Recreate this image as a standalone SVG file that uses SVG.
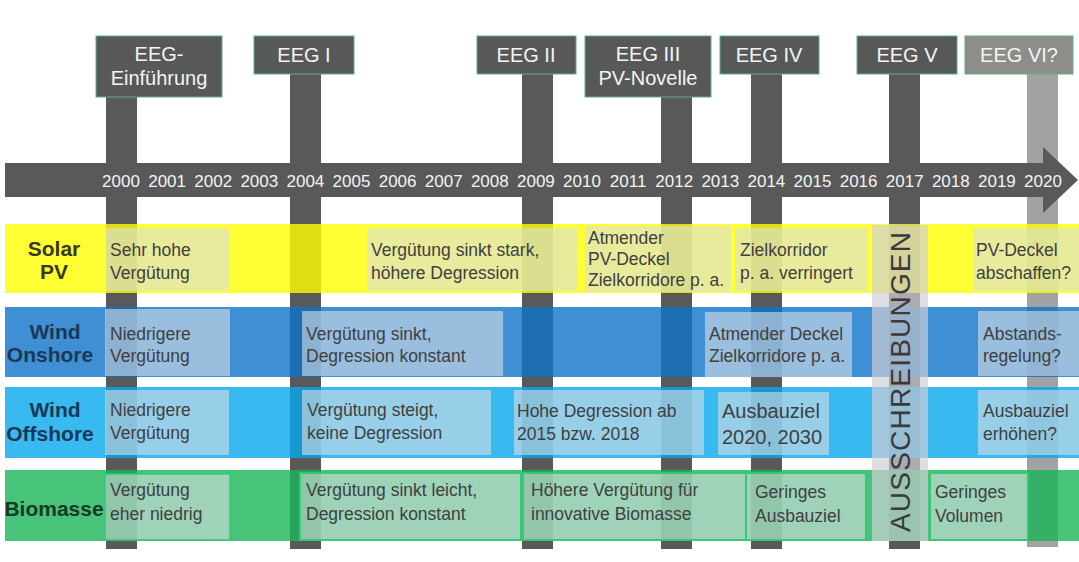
<svg xmlns="http://www.w3.org/2000/svg" width="1079" height="562" viewBox="0 0 1079 562">
<style>
.bar{fill:#595959}
.bar2{fill:#a2a2a2}
.eeg{fill:#575958;stroke:#5fae8f;stroke-width:1}
.eeg2{fill:#8d8d89;stroke:#5fae8f;stroke-width:1}
.et{font-family:"Liberation Sans",Arial,sans-serif;font-size:20px;fill:#f4f4f4;text-anchor:middle}
.yr{font-family:"Liberation Sans",Arial,sans-serif;font-size:17px;fill:#f4f4f4;text-anchor:middle}
.row{opacity:0.8}
.lbl{font-family:"Liberation Sans",Arial,sans-serif;font-size:21px;font-weight:bold;text-anchor:middle}
.bx{fill:#d9dde3;fill-opacity:0.6}
.bt{font-family:"Liberation Sans",Arial,sans-serif;font-size:17.5px;fill:#404040}
.bt2{font-family:"Liberation Sans",Arial,sans-serif;font-size:20px;fill:#404040}
</style>
<rect width="1079" height="562" fill="#ffffff"/>
<g id="bars">
<rect class="bar" x="106" y="60" width="31" height="489"/>
<rect class="bar" x="290" y="60" width="31" height="489"/>
<rect class="bar" x="522" y="60" width="31" height="489"/>
<rect class="bar" x="661" y="60" width="31" height="489"/>
<rect class="bar" x="751" y="60" width="31" height="489"/>
<rect class="bar" x="889" y="60" width="31" height="489"/>
<rect class="bar2" x="1027" y="60" width="31" height="487"/>
</g>
<g id="timeline">
<polygon class="bar" points="5,163 1043,163 1043,147 1078,180 1043,213 1043,197 5,197"/>
<text class="yr" x="121" y="187">2000</text>
<text class="yr" x="167.1" y="187">2001</text>
<text class="yr" x="213.2" y="187">2002</text>
<text class="yr" x="259.3" y="187">2003</text>
<text class="yr" x="305.4" y="187">2004</text>
<text class="yr" x="351.5" y="187">2005</text>
<text class="yr" x="397.6" y="187">2006</text>
<text class="yr" x="443.7" y="187">2007</text>
<text class="yr" x="489.8" y="187">2008</text>
<text class="yr" x="535.9" y="187">2009</text>
<text class="yr" x="582" y="187">2010</text>
<text class="yr" x="628.1" y="187">2011</text>
<text class="yr" x="674.2" y="187">2012</text>
<text class="yr" x="720.3" y="187">2013</text>
<text class="yr" x="766.4" y="187">2014</text>
<text class="yr" x="812.5" y="187">2015</text>
<text class="yr" x="858.6" y="187">2016</text>
<text class="yr" x="904.7" y="187">2017</text>
<text class="yr" x="950.8" y="187">2018</text>
<text class="yr" x="996.9" y="187">2019</text>
<text class="yr" x="1043" y="187">2020</text>
</g>
<g id="eeg-boxes">
<g id="eeg0"><rect class="eeg" x="96" y="36" width="126" height="61"/><text class="et" x="159" y="61">EEG-</text><text class="et" x="159" y="85">Einführung</text></g>
<g id="eeg1"><rect class="eeg" x="254" y="36" width="100" height="38"/><text class="et" x="304" y="62">EEG I</text></g>
<g id="eeg2"><rect class="eeg" x="477" y="36" width="99" height="38"/><text class="et" x="526" y="62">EEG II</text></g>
<g id="eeg3"><rect class="eeg" x="585" y="36" width="126" height="61"/><text class="et" x="648" y="61">EEG III</text><text class="et" x="648" y="85">PV-Novelle</text></g>
<g id="eeg4"><rect class="eeg" x="720" y="36" width="99" height="38"/><text class="et" x="769" y="62">EEG IV</text></g>
<g id="eeg5"><rect class="eeg" x="857" y="36" width="100" height="38"/><text class="et" x="907" y="62">EEG V</text></g>
<g id="eeg6"><rect class="eeg2" x="965" y="36" width="108" height="38"/><text class="et" x="1019" y="62">EEG VI?</text></g>
</g>
<g id="rows">
<rect class="row" x="5" y="224" width="1074" height="69" fill="#ffff00"/>
<rect class="row" x="5" y="307" width="1074" height="70" fill="#0e73c9"/>
<rect class="row" x="5" y="387" width="1074" height="71" fill="#06a8ec"/>
<rect class="row" x="5" y="470" width="1074" height="71" fill="#1ab559"/>
</g>
<g id="row-labels">
<text class="lbl" x="54" y="256" fill="#38381e">Solar</text>
<text class="lbl" x="54" y="279" fill="#38381e">PV</text>
<text class="lbl" x="55" y="339" fill="#1b3858">Wind</text>
<text class="lbl" x="50" y="362" fill="#1b3858">Onshore</text>
<text class="lbl" x="55" y="417" fill="#1b3858">Wind</text>
<text class="lbl" x="50" y="441" fill="#1b3858">Offshore</text>
<text class="lbl" x="54" y="516" fill="#173a24">Biomasse</text>
</g>
<g id="ausschreibungen">
<rect x="872" y="225" width="56" height="316" fill="#cfcfd6" fill-opacity="0.7"/>
<text transform="translate(910,532) rotate(-90)" font-family="'Liberation Sans',Arial,sans-serif" font-size="28" fill="#3a3a3a" textLength="300" lengthAdjust="spacing">AUSSCHREIBUNGEN</text>
</g>
<g id="solar-boxes">
<g id="s1"><rect class="bx" x="106" y="228" width="124" height="63"/><text class="bt" x="110" y="256">Sehr hohe</text><text class="bt" x="110" y="279">Vergütung</text></g>
<g id="s2"><rect class="bx" x="367" y="228" width="211" height="63"/><text class="bt" x="371" y="256">Vergütung sinkt stark,</text><text class="bt" x="371" y="279">höhere Degression</text></g>
<g id="s3"><rect class="bx" x="585" y="226" width="146" height="66"/><text class="bt" x="588" y="244">Atmender</text><text class="bt" x="588" y="265">PV-Deckel</text><text class="bt" x="588" y="286">Zielkorridore p. a.</text></g>
<g id="s4"><rect class="bx" x="735" y="228" width="133" height="63"/><text class="bt" x="740" y="256">Zielkorridor</text><text class="bt" x="740" y="279">p. a. verringert</text></g>
<g id="s5"><rect class="bx" x="973" y="228" width="106" height="63"/><text class="bt" x="976" y="256">PV-Deckel</text><text class="bt" x="976" y="279">abschaffen?</text></g>
</g>
<g id="onshore-boxes">
<g id="on1"><rect class="bx" x="105" y="309" width="125" height="67"/><text class="bt" x="110" y="340">Niedrigere</text><text class="bt" x="110" y="362">Vergütung</text></g>
<g id="on2"><rect class="bx" x="302" y="311" width="201" height="65"/><text class="bt" x="306" y="340">Vergütung sinkt,</text><text class="bt" x="306" y="362">Degression konstant</text></g>
<g id="on3"><rect class="bx" x="705" y="312" width="147" height="65"/><text class="bt" x="709" y="340">Atmender Deckel</text><text class="bt" x="709" y="362">Zielkorridore p. a.</text></g>
<g id="on4"><rect class="bx" x="978" y="311" width="101" height="65"/><text class="bt" x="983" y="340">Abstands-</text><text class="bt" x="983" y="362">regelung?</text></g>
</g>
<g id="offshore-boxes">
<g id="of1"><rect class="bx" x="105" y="390" width="124" height="65"/><text class="bt" x="110" y="416">Niedrigere</text><text class="bt" x="110" y="439">Vergütung</text></g>
<g id="of2"><rect class="bx" x="302" y="390" width="189" height="65"/><text class="bt" x="307" y="416">Vergütung steigt,</text><text class="bt" x="307" y="439">keine Degression</text></g>
<g id="of3"><rect class="bx" x="514" y="390" width="190" height="65"/><text class="bt" x="517" y="417">Hohe Degression ab</text><text class="bt" x="517" y="440">2015 bzw. 2018</text></g>
<g id="of4"><rect class="bx" x="718" y="392" width="111" height="63"/><text class="bt2" x="722" y="418">Ausbauziel</text><text class="bt2" x="722" y="444">2020, 2030</text></g>
<g id="of5"><rect class="bx" x="978" y="390" width="101" height="65"/><text class="bt" x="983" y="417">Ausbauziel</text><text class="bt" x="983" y="440">erhöhen?</text></g>
</g>
<g id="biomasse-boxes">
<g id="b1"><rect class="bx" x="105" y="474" width="125" height="66" stroke="#36c873" stroke-width="1.5"/><text class="bt" x="110" y="496">Vergütung</text><text class="bt" x="110" y="520">eher niedrig</text></g>
<g id="b2"><rect class="bx" x="300" y="473" width="221" height="67" stroke="#36c873" stroke-width="2"/><text class="bt" x="306" y="496">Vergütung sinkt leicht,</text><text class="bt" x="306" y="520">Degression konstant</text></g>
<g id="b3"><rect class="bx" x="523" y="473" width="223" height="67" stroke="#36c873" stroke-width="2"/><text class="bt" x="531" y="496">Höhere Vergütung für</text><text class="bt" x="531" y="520">innovative Biomasse</text></g>
<g id="b4"><rect class="bx" x="746" y="473" width="120" height="67" stroke="#36c873" stroke-width="2"/><text class="bt" x="755" y="498">Geringes</text><text class="bt" x="755" y="522">Ausbauziel</text></g>
<g id="b5"><rect class="bx" x="930" y="473" width="98" height="67" stroke="#36c873" stroke-width="2"/><text class="bt" x="935" y="498">Geringes</text><text class="bt" x="935" y="522">Volumen</text></g>
</g>
</svg>
